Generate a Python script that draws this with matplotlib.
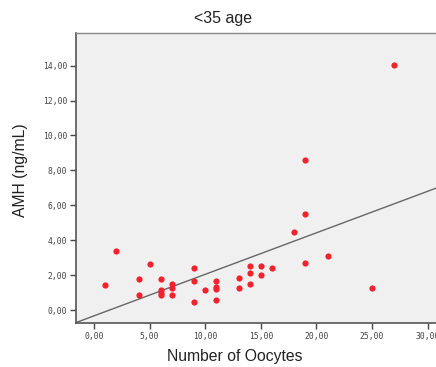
import numpy as np
import matplotlib
matplotlib.use("Agg")
import matplotlib.pyplot as plt
from matplotlib.ticker import FuncFormatter

oocytes = [1, 2, 4, 4, 5, 6, 6, 6, 6, 7, 7, 7, 9, 9, 9, 10, 11, 11, 11, 11,
           13, 13, 14, 14, 14, 15, 15, 16, 18, 19, 19, 19, 21, 25, 27]
amh = [1.42, 3.36, 1.76, 0.84, 2.62, 1.78, 1.13, 0.96, 0.84, 1.49, 1.24, 0.84,
       2.43, 1.68, 0.46, 1.15, 1.66, 1.32, 1.22, 0.55,
       1.83, 1.24, 2.52, 2.14, 1.47, 2.54, 1.99, 2.39, 4.49, 5.48, 2.69, 8.58,
       3.09, 1.26, 14.06]

xticks = [0, 5, 10, 15, 20, 25, 30]
yticks = [0, 2, 4, 6, 8, 10, 12, 14]

fig = plt.figure(figsize=(4.36, 3.67), dpi=100)
ax = fig.add_axes([76/436, 1-323/367, 1-76/436, (323-33)/367])
ax.set_facecolor("#f0f0f0")

xlim = (-1.62, 30.75)
ylim = (-0.74, 15.87)
ax.set_xlim(*xlim)
ax.set_ylim(*ylim)

ax.scatter(oocytes, amh, s=20, color="#f2222c", zorder=3, linewidths=0)

slope, intercept = np.polyfit(oocytes, amh, 1)
xs = np.array(xlim)
ax.plot(xs, slope*xs + intercept, color="#666666", lw=1.0, zorder=2)

fmt = FuncFormatter(lambda v, p: f"{v:.2f}".replace(".", ","))
ax.set_xticks(xticks)
ax.set_yticks(yticks)
ax.xaxis.set_major_formatter(fmt)
ax.yaxis.set_major_formatter(fmt)
ax.tick_params(axis="both", direction="out", length=4, width=1.0, color="#444444",
               labelsize=5.8, labelcolor="#444444", pad=2.5)
for lab in ax.get_xticklabels() + ax.get_yticklabels():
    lab.set_family("DejaVu Sans Mono")
for side in ["right"]:
    ax.spines[side].set_visible(False)
for side in ["left", "bottom"]:
    ax.spines[side].set_color("#555555")
    ax.spines[side].set_linewidth(1.2)
ax.spines["top"].set_color("#888888")
ax.spines["top"].set_linewidth(1.0)

fig.text(223/436, 1-19/367, "<35 age", ha="center", va="center",
         fontsize=11.5, family="Liberation Sans", color="#222222")
fig.text(235/436, 1-357/367, "Number of Oocytes", ha="center", va="center",
         fontsize=11.3, family="Liberation Sans", color="#222222")
fig.text(20/436, 1-170/367, "AMH (ng/mL)", ha="center", va="center", rotation=90,
         fontsize=11.3, family="Liberation Sans", color="#222222")

fig.savefig("out.png", dpi=100)
